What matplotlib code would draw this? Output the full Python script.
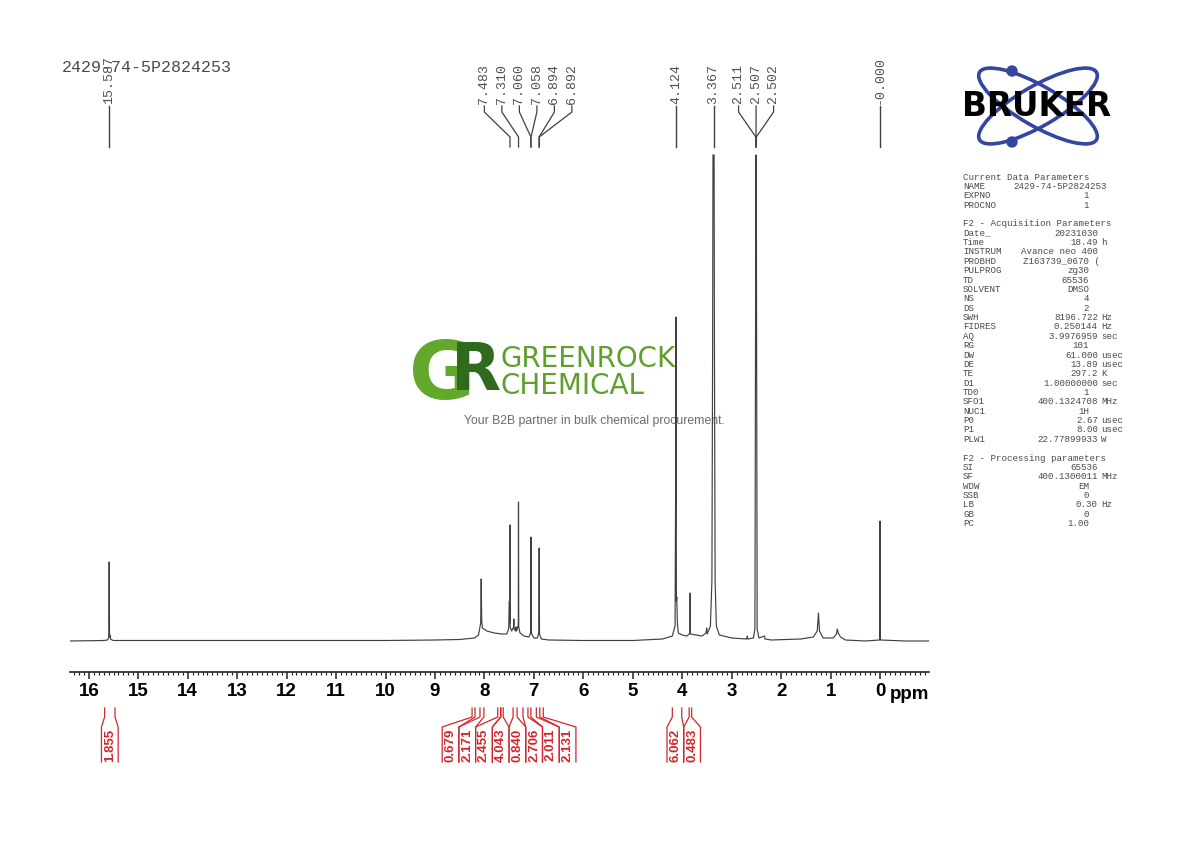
import numpy as np
import matplotlib.pyplot as plt
from matplotlib.patches import Ellipse, Circle
from matplotlib.ticker import MultipleLocator
from matplotlib.transforms import blended_transform_factory

plt.rcParams['font.family'] = ['Liberation Sans', 'DejaVu Sans']

# 1H spectrum trace (ppm, height in plot units, baseline = 0)
shift = [16.38, 15.70, 15.62, 15.595, 15.588, 15.581, 15.570, 15.555, 15.50, 14.0, 12.0,
         10.0, 9.0, 8.5, 8.2, 8.12, 8.075, 8.065, 8.055, 8.04, 7.95, 7.80, 7.65, 7.55,
         7.51, 7.495, 7.490, 7.485, 7.480, 7.45, 7.41, 7.405, 7.400, 7.37, 7.36, 7.35,
         7.315, 7.311, 7.306, 7.28, 7.20, 7.10, 7.065, 7.059, 7.053, 7.00, 6.93, 6.90,
         6.893, 6.886, 6.85, 6.70, 6.0, 5.0, 4.4, 4.20, 4.145, 4.130, 4.126, 4.118,
         4.110, 4.100, 4.08, 4.00, 3.90, 3.845, 3.840, 3.835, 3.60, 3.52, 3.505, 3.495,
         3.43, 3.40, 3.385, 3.378, 3.356, 3.349, 3.335, 3.31, 3.25, 3.00, 2.70, 2.685,
         2.675, 2.56, 2.53, 2.518, 2.512, 2.502, 2.496, 2.485, 2.45, 2.335, 2.325, 2.2,
         1.6, 1.35, 1.27, 1.245, 1.225, 1.15, 0.95, 0.88, 0.865, 0.845, 0.80, 0.70,
         0.30, 0.008, 0.000, -0.008, -0.50, -0.99]
intensity = [0, 0.5, 1, 4, 79, 4, 6, 1.5, 0.5, 0.5, 0.5,
             0.5, 1, 1.5, 3, 6, 18, 62, 20, 13, 10, 8, 7, 7,
             12, 40, 18, 116, 14, 10, 14, 22, 12, 10, 14, 10,
             16, 139, 14, 8, 5, 4, 8, 104, 8, 3, 3, 8,
             93, 7, 2, 1, 0.5, 0.5, 2, 5, 15, 200, 324, 40,
             44, 20, 8, 6, 5, 8, 48, 7, 5, 8, 13, 7,
             15, 60, 300, 486, 486, 300, 60, 15, 6, 3, 2, 5,
             2, 3, 12, 300, 486, 486, 300, 12, 3, 5, 2, 1,
             2, 4, 10, 28, 10, 3, 3, 7, 12, 8, 4, 1,
             0, 1, 120, 1, 0, 0]

# peak picking labels on top
peak_ppm = [15.587, 7.483, 7.310, 7.060, 7.058, 6.894, 6.892,
            4.124, 3.367, 2.511, 2.507, 2.502, -0.000]

# integral regions (ppm) and values
int_start = [15.68, 8.25, 8.09, 7.73, 7.67, 7.42, 7.22, 7.06, 6.88, 4.20, 3.86]
int_end = [15.47, 8.19, 8.01, 7.67, 7.62, 7.34, 7.12, 6.95, 6.81, 4.01, 3.81]
int_value = [1.855, 0.679, 2.171, 2.455, 4.043, 0.840, 2.706, 2.011, 2.131, 6.062, 0.483]

sample_name = '2429-74-5P2824253'

# acquisition / processing parameter panel: (name, value, unit, value right edge)
param_rows = [
    ('Current Data Parameters', '', '', 0),
    ('NAME', '2429-74-5P2824253', '', 1107),
    ('EXPNO', '1', '', 1089),
    ('PROCNO', '1', '', 1089),
    None,
    ('F2 - Acquisition Parameters', '', '', 0),
    ('Date_', '20231030', '', 1098),
    ('Time', '18.49', 'h', 1098),
    ('INSTRUM', 'Avance neo 400', '', 1098),
    ('PROBHD', 'Z163739_0670 (', '', 1100),
    ('PULPROG', 'zg30', '', 1089),
    ('TD', '65536', '', 1089),
    ('SOLVENT', 'DMSO', '', 1089),
    ('NS', '4', '', 1089),
    ('DS', '2', '', 1089),
    ('SWH', '8196.722', 'Hz', 1098),
    ('FIDRES', '0.250144', 'Hz', 1098),
    ('AQ', '3.9976959', 'sec', 1098),
    ('RG', '101', '', 1089),
    ('DW', '61.000', 'usec', 1098),
    ('DE', '13.89', 'usec', 1098),
    ('TE', '297.2', 'K', 1098),
    ('D1', '1.00000000', 'sec', 1098),
    ('TD0', '1', '', 1089),
    ('SFO1', '400.1324708', 'MHz', 1098),
    ('NUC1', '1H', '', 1089),
    ('P0', '2.67', 'usec', 1098),
    ('P1', '8.00', 'usec', 1098),
    ('PLW1', '22.77899933', 'W', 1098),
    None,
    ('F2 - Processing parameters', '', '', 0),
    ('SI', '65536', '', 1098),
    ('SF', '400.1300011', 'MHz', 1098),
    ('WDW', 'EM', '', 1089),
    ('SSB', '0', '', 1089),
    ('LB', '0.30', 'Hz', 1098),
    ('GB', '0', '', 1089),
    ('PC', '1.00', '', 1089),
]

W, H = 1190, 842
fig = plt.figure(figsize=(W / 100, H / 100), dpi=100)

# overlay in pixel coordinates (y down) for all the annotation stuff
over = fig.add_axes([0, 0, 1, 1])
over.set_axis_off()

ax = fig.add_axes([70 / W, 170 / H, 859 / W, 522 / H])
ax.patch.set_visible(False)
ax.plot(shift, intensity, color='#404040', lw=0.85)
ax.set_xlim(16.38, -0.99)
ax.set_ylim(-31, 491)
for s in ['left', 'top', 'right']:
    ax.spines[s].set_visible(False)
ax.spines['bottom'].set_linewidth(1.2)
ax.spines['bottom'].set_color('#222222')
ax.set_yticks([])
ticks = np.arange(0, 17)
ax.set_xticks(ticks, labels=[str(t) for t in ticks], fontweight='bold', fontsize=13.5)
ax.xaxis.set_minor_locator(MultipleLocator(0.1))
ax.tick_params(axis='x', which='major', length=5, width=1.1, pad=3, color='#222222')
ax.tick_params(axis='x', which='minor', length=2.5, width=0.8, color='#222222')

tr = blended_transform_factory(ax.transData, over.transData)

# ppm unit label
over.text(929, 686, 'ppm', ha='right', va='top', fontsize=13.5, fontweight='bold')

# peak labels
lab_gap = 0.354
groups = []
for p in peak_ppm:
    if groups and groups[-1][-1] - p < lab_gap:
        groups[-1].append(p)
    else:
        groups.append([p])
for g in groups:
    m = np.mean(g)
    n = len(g)
    for k, p in enumerate(g):
        lx = m + ((n - 1) / 2 - k) * lab_gap
        over.text(lx, 104, f'{p:.3f}', transform=tr, rotation=90, ha='center', va='bottom',
                  family='Liberation Mono', fontsize=9.5, color='#505050', clip_on=False)
        if n == 1:
            over.plot([p, p], [106, 147], transform=tr, color='#404040', lw=1, clip_on=False)
        else:
            over.plot([lx, lx, p, p], [106, 112, 137, 147], transform=tr, color='#404040',
                      lw=0.9, clip_on=False)

# integrals
box_w = 0.338
centers = [(s + e) / 2 for s, e in zip(int_start, int_end)]
igroups = []
for i, c in enumerate(centers):
    if igroups and centers[igroups[-1][-1]] - c < 1.5 * box_w:
        igroups[-1].append(i)
    else:
        igroups.append([i])
red = '#d3262b'
for g in igroups:
    m = np.mean([centers[i] for i in g])
    n = len(g)
    for k, i in enumerate(g):
        lx = m + ((n - 1) / 2 - k) * box_w
        bl, br = lx + box_w / 2, lx - box_w / 2
        s, e = int_start[i], int_end[i]
        over.plot([s, s, bl, bl], [708, 717, 727, 762], transform=tr, color=red, lw=0.9, clip_on=False)
        over.plot([e, e, br, br], [708, 717, 727, 762], transform=tr, color=red, lw=0.9, clip_on=False)
        over.text(lx, 745, f'{int_value[i]:.3f}', transform=tr, rotation=90, ha='center', va='center',
                  fontsize=9.5, fontweight='bold', color=red, clip_on=False)

# sample name
over.text(62, 68, sample_name, family='Liberation Mono', fontsize=12, color='#4a4a4a',
          ha='left', va='center')

# parameter panel
for idx, row in enumerate(param_rows):
    if row is None:
        continue
    name, val, unit, xr = row
    y = 177 + idx * 9.37
    over.text(963, y, name, family='Liberation Mono', fontsize=6.6, color='#4a4a4a', va='center')
    if val:
        over.text(xr, y, val, family='Liberation Mono', fontsize=6.6, color='#4a4a4a',
                  va='center', ha='right')
    if unit:
        over.text(1101, y, unit, family='Liberation Mono', fontsize=6.6, color='#4a4a4a', va='center')

# Bruker logo
blue = '#3446a0'
for ang in (30, -30):
    over.add_patch(Ellipse((1038, 106), 135, 40, angle=ang, fill=False, ec=blue, lw=2.6))
over.add_patch(Circle((1012, 71), 5, color=blue))
over.add_patch(Circle((1012, 142), 5, color=blue))
over.text(1037, 107, 'BRUKER', family='DejaVu Sans', fontweight='bold', fontsize=23.5,
          color='black', ha='center', va='center')

# Greenrock watermark
over.text(409, 399, 'G', family='DejaVu Sans', fontweight='bold', fontsize=58,
          color='#62a82a', ha='left', va='baseline')
over.text(451, 390, 'R', family='DejaVu Sans', fontweight='bold', fontsize=47,
          color='#2f6a1f', ha='left', va='baseline')
over.text(501, 345, 'GREENROCK\nCHEMICAL', family='DejaVu Sans', fontsize=20,
          color='#5f9f2c', ha='left', va='top', linespacing=0.95)
over.text(594, 421, 'Your B2B partner in bulk chemical procurement.', fontsize=8.8,
          color='#6b6b6b', ha='center', va='center')

over.set_xlim(0, W)
over.set_ylim(H, 0)

fig.savefig('out.png', dpi=100)
